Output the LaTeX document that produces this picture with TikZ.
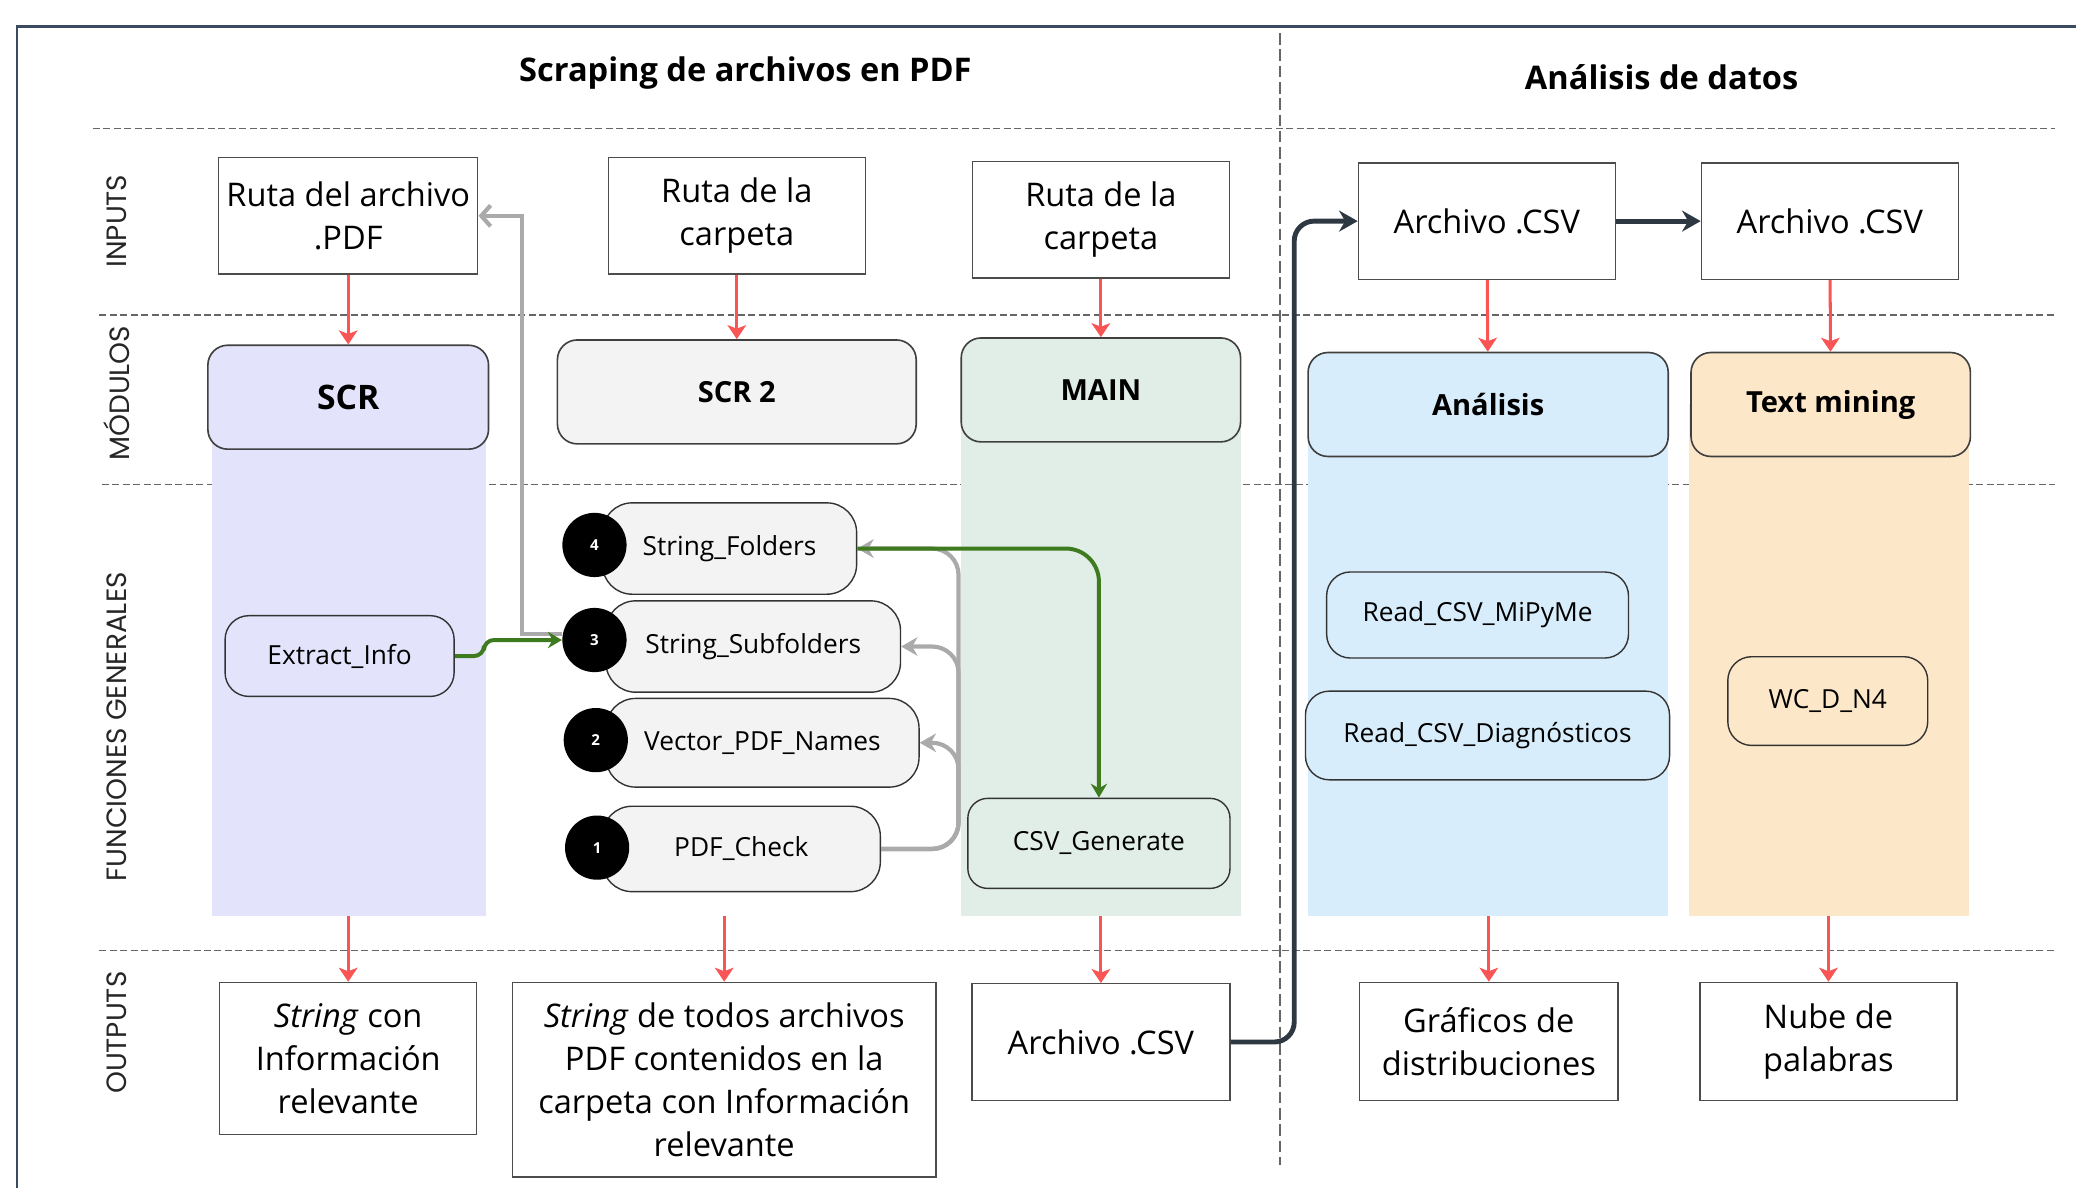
\documentclass[tikz,border=0pt]{standalone}
\usepackage{fontspec}
\setmainfont{Open Sans}
\newfontfamily\rowfont{Poppins}
\usepackage{xcolor}
\usepackage{tikz}
\usetikzlibrary{
  positioning,
  arrows.meta,
  calc
}

\definecolor{scrfill}{RGB}{227,227,251}
\definecolor{scrtwofill}{RGB}{243,243,243}
\definecolor{mainfill}{RGB}{225,237,231}
\definecolor{anafill}{RGB}{216,237,251}
\definecolor{tmfill}{RGB}{253,231,201}
\definecolor{redarr}{RGB}{250,85,85}
\definecolor{darkarr}{RGB}{45,56,66}
\definecolor{grayarr}{RGB}{170,170,170}
\definecolor{greenarr}{RGB}{62,122,30}
\definecolor{framecol}{RGB}{60,74,95}

\begin{document}
\begin{tikzpicture}[
  x=0.2mm, y=-0.2mm,
  titlelabel/.style={
    font=\fontsize{14}{17}\selectfont\bfseries
  },
  rowlabel/.style={
    rotate=90,
    text=black!85,
    font=\rowfont\fontsize{12}{14}\selectfont
  },
  inbox/.style={
    rectangle,
    draw=black!70,
    line width=0.6pt,
    fill=white,
    minimum width=38.8mm,
    minimum height=17.6mm,
    align=center,
    font=\fontsize{14}{18.6}\selectfont
  },
  modbox/.style={
    rectangle,
    rounded corners=3mm,
    draw=black!75,
    line width=0.7pt,
    minimum height=15.7mm,
    align=center,
    font=\fontsize{12.5}{15}\selectfont\bfseries
  },
  funcbox/.style={
    rectangle,
    rounded corners=4.5mm,
    draw=black!80,
    line width=0.6pt,
    fill=scrtwofill,
    minimum height=13.6mm,
    align=center,
    font=\fontsize{11.3}{13}\selectfont
  },
  numdot/.style={
    circle,
    fill=black,
    inner sep=0pt,
    minimum size=9.7mm,
    text=white,
    font=\fontsize{6.5}{7}\selectfont\bfseries
  },
  sepline/.style={
    draw=black!60,
    line width=0.7pt,
    dash pattern=on 3pt off 1.5pt
  },
  redarrow/.style={
    -{Stealth[length=6pt,width=8pt,inset=1.5pt]},
    line width=1.3pt,
    draw=redarr
  },
  darkarrow/.style={
    -{Stealth[length=8pt,width=9pt]},
    line width=2.1pt,
    draw=darkarr
  },
  grayarrow/.style={
    -{Stealth[length=7pt,width=8pt]},
    line width=1.8pt,
    draw=grayarr
  },
  greenarrow/.style={
    -{Stealth[length=6pt,width=7pt]},
    line width=1.7pt,
    draw=greenarr
  }
]
\useasboundingbox (0,0) rectangle (1568,897);

% frame and separators
\draw[framecol, line width=1.1pt] (13,897) -- (13,20) -- (1568,20);
\draw[black!60, line width=0.7pt, dash pattern=on 5pt off 2pt] (967,25) -- (967,880);
\draw[sepline] (70,97) -- (1552,97);
\draw[sepline] (75,238) -- (1552,238);
\draw[sepline] (77,366) -- (1552,366);
\draw[sepline] (75,718) -- (1552,718);

% column bands
\fill[scrfill] (160,300) rectangle (367,692);
\fill[mainfill] (726,300) rectangle (937,692);
\fill[anafill] (988,305) rectangle (1260,692);
\fill[tmfill] (1276,305) rectangle (1487,692);

\node[titlelabel] (tscr) at (563,55) {Scraping de archivos en PDF};
\node[titlelabel] (tana) at (1255,58) {Análisis de datos};

\node[rowlabel] (rin) at (88,167) {INPUTS};
\node[rowlabel] (rmod) at (88,297) {MÓDULOS};
\node[rowlabel] (rfun) at (88,549) {FUNCIONES GENERALES};
\node[rowlabel] (rout) at (88,780) {OUTPUTS};

% inputs
\node[inbox] (in1) at (263,163) {Ruta del archivo\\.PDF};
\node[inbox] (in2) at (556.5,163) {Ruta de la\\carpeta};
\node[inbox] (in3) at (831.5,166) {Ruta de la\\carpeta};
\node[inbox] (in4) at (1123,167) {Archivo .CSV};
\node[inbox, right=12.8mm of in4] (in5) {Archivo .CSV};

% modules
\node[modbox, fill=scrfill, minimum width=42.4mm, font=\fontsize{14.5}{17}\selectfont\bfseries] (scr) at (263,300) {SCR};
\node[modbox, fill=scrtwofill, minimum width=54.2mm] (scrtwo) at (556.5,296) {SCR 2};
\node[modbox, fill=mainfill, minimum width=42.2mm] (main) at (831.5,294.5) {MAIN};
\node[modbox, fill=anafill, minimum width=54.4mm] (ana) at (1124,305.5) {Análisis};
\node[modbox, fill=tmfill, minimum width=42.2mm, right=3.2mm of ana] (tm) {Text mining};

% functions
\node[funcbox, fill=scrfill, minimum width=34.6mm, minimum height=12.2mm, rounded corners=3.6mm] (extract) at (256.5,495.5) {Extract\_Info};
\node[funcbox, minimum width=38.4mm, minimum height=13.8mm] (sfold) at (551,414.3) {String\_Folders};
\node[funcbox, minimum width=44.5mm, minimum height=13.8mm] (ssub) at (568.9,488.3) {String\_Subfolders};
\node[funcbox, minimum width=47.3mm, minimum height=13.4mm] (vpdf) at (575.9,561) {Vector\_PDF\_Names};
\node[funcbox, minimum width=42mm, minimum height=12.9mm] (pdfc) at (559.9,641.2) {PDF\_Check};
\node[numdot] (d4) at (449,411.6) {4};
\node[numdot] (d3) at (449,483.4) {3};
\node[numdot] (d2) at (450,559) {2};
\node[numdot] (d1) at (451,640.2) {1};
\node[funcbox, fill=mainfill, minimum width=39.6mm, rounded corners=3mm] (csvg) at (830,637) {CSV\_Generate};
\node[funcbox, fill=anafill, minimum width=45.6mm, minimum height=13mm, rounded corners=3.6mm] (rmipyme) at (1116,464.5) {Read\_CSV\_MiPyMe};
\node[funcbox, fill=anafill, minimum width=55mm, minimum height=13.4mm, rounded corners=3.6mm] (rdiag) at (1123.5,555.5) {Read\_CSV\_Diagnósticos};
\node[funcbox, fill=tmfill, minimum width=30.2mm, minimum height=13.4mm, rounded corners=3.6mm] (wcdn) at (1380.5,529.5) {WC\_D\_N4};

% outputs
\node[inbox, minimum height=23mm] (o1) at (263,799.5) {\textit{String} con\\Información\\relevante};
\node[inbox, minimum width=64mm, minimum height=29.4mm] (o2) at (547,815.5) {\textit{String} de todos archivos\\PDF contenidos en la\\carpeta con Información\\relevante};
\node[inbox, minimum width=39mm] (o3) at (831.5,787) {Archivo .CSV};
\node[inbox, minimum width=39mm, minimum height=17.8mm] (o4) at (1124.5,786.5) {Gráficos de\\distribuciones};
\node[inbox, minimum height=17.8mm] (o5) at (1381,786.5) {Nube de\\palabras};

\coordinate (b1) at (263,692);
\coordinate (b2) at (547,692);
\coordinate (b3) at (831.5,692);
\coordinate (b4) at (1124.5,692);
\coordinate (b5) at (1381,692);
\coordinate (brk) at (pdfc.east -| 724,0);

\draw[redarrow] (in1) -- (scr);
\draw[redarrow] (in2) -- (scrtwo);
\draw[redarrow] (in3) -- (main);
\draw[redarrow] (in4) -- (ana);
\draw[redarrow] (in5) -- (tm);
\draw[redarrow] (b1) -- (o1);
\draw[redarrow] (b2) -- (o2);
\draw[redarrow] (b3) -- (o3);
\draw[redarrow] (b4) -- (o4);
\draw[redarrow] (b5) -- (o5);

\draw[darkarrow, rounded corners=3mm] (o3.east) -- ++(48,0) |- (in4.west);
\draw[darkarrow] (in4) -- (in5);

\draw[grayarrow, -{Straight Barb[length=4pt,width=9pt]}] ([yshift=0.9mm]d3.west) -- ++(-30,0) |- (in1.east);
\draw[grayarrow, rounded corners=4mm] (pdfc.east) -- (brk) |- (vpdf.east);
\draw[grayarrow, rounded corners=4mm] (pdfc.east) -- (brk) |- (ssub.east);
\draw[grayarrow, rounded corners=4mm] (pdfc.east) -- (brk) |- (sfold.east);

\draw[greenarrow, rounded corners=5mm] (sfold.east) -| (csvg.north);
\draw[greenarrow, rounded corners=1.5mm] (extract.east) -- ++(22,0) |- (d3.west);

\end{tikzpicture}
\end{document}
